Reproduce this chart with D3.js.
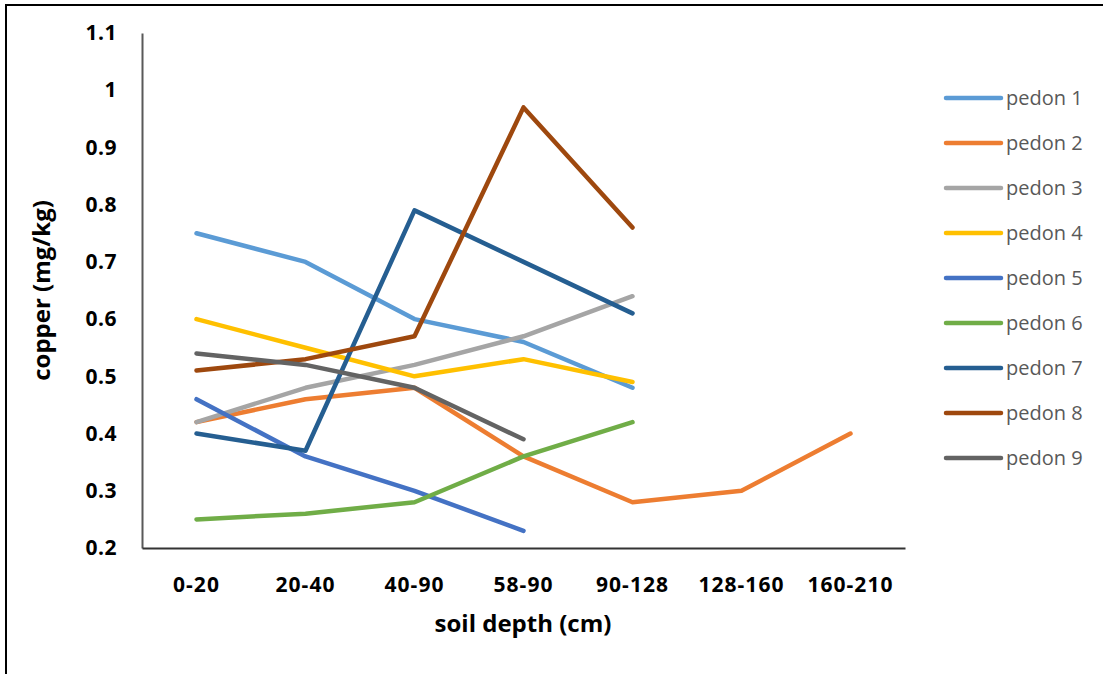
<!DOCTYPE html>
<html>
<head>
<meta charset="utf-8">
<script src="https://cdn.jsdelivr.net/npm/d3@7"></script>
<style>
  body { margin: 0; background: #fff; }
  svg text { font-family: "Open Sans", Lato, "Liberation Sans", sans-serif; }
</style>
</head>
<body>
<div id="chart"></div>
<script>
"use strict";
// soil depth classes (x axis)
var depths = ["0-20", "20-40", "40-90", "58-90", "90-128", "128-160", "160-210"];

var seriesNames = ["pedon 1", "pedon 2", "pedon 3", "pedon 4", "pedon 5",
  "pedon 6", "pedon 7", "pedon 8", "pedon 9"];

// copper values, one array per pedon
var pedon1 = [0.75, 0.70, 0.60, 0.56, 0.48];
var pedon2 = [0.42, 0.46, 0.48, 0.36, 0.28, 0.30, 0.40];
var pedon3 = [0.42, 0.48, 0.52, 0.57, 0.64];
var pedon4 = [0.60, 0.55, 0.50, 0.53, 0.49];
var pedon5 = [0.46, 0.36, 0.30, 0.23];
var pedon6 = [0.25, 0.26, 0.28, 0.36, 0.42];
var pedon7 = [0.40, 0.37, 0.79, 0.70, 0.61];
var pedon8 = [0.51, 0.53, 0.57, 0.97, 0.76];
var pedon9 = [0.54, 0.52, 0.48, 0.39];

var yTicks = [0.2, 0.3, 0.4, 0.5, 0.6, 0.7, 0.8, 0.9, 1, 1.1];

var colors = ["#5B9BD5", "#ED7D31", "#A5A5A5", "#FFC000", "#4472C4",
  "#70AD47", "#255E91", "#9E480E", "#636363"];

var allSeries = [pedon1, pedon2, pedon3, pedon4, pedon5, pedon6, pedon7, pedon8, pedon9];

var w = 1103, h = 674;
var plot = { left: 142, right: 905, top: 33, bottom: 548 };

var svg = d3.select("#chart").append("svg")
  .attr("width", w)
  .attr("height", h);

//outer frame, only left and top edges show in the picture
svg.append("rect")
  .attr("x", 6).attr("y", 5)
  .attr("width", w + 10).attr("height", h + 10)
  .attr("fill", "none")
  .attr("stroke", "#000")
  .attr("stroke-width", 2);

var x = d3.scaleBand().domain(depths).range([plot.left, plot.right]);
var y = d3.scaleLinear().domain([0.2, 1.1]).range([plot.bottom, plot.top]);

//y axis
var yAxis = svg.append("g")
  .attr("transform", "translate(" + plot.left + ",0)")
  .call(d3.axisLeft(y).tickValues(yTicks).tickSize(0).tickPadding(25)
    .tickFormat(function(d) { return String(+d.toFixed(1)); }));
yAxis.select(".domain").attr("stroke", "#595959").attr("stroke-width", 2);
yAxis.selectAll("text")
  .attr("font-size", 21).attr("font-weight", "bold").attr("fill", "#000")
  .attr("letter-spacing", 0.5);

//x axis
var xAxis = svg.append("g")
  .attr("transform", "translate(0," + plot.bottom + ")")
  .call(d3.axisBottom(x).tickSize(0).tickPadding(29));
xAxis.select(".domain").attr("stroke", "#333").attr("stroke-width", 2);
xAxis.selectAll("text")
  .attr("font-size", 21).attr("font-weight", "bold").attr("fill", "#000")
  .attr("letter-spacing", 1);

//axis titles
svg.append("text")
  .attr("x", 523)
  .attr("y", 632)
  .attr("text-anchor", "middle")
  .attr("font-size", 24).attr("font-weight", "bold")
  .text("soil depth (cm)");

svg.append("text")
  .attr("transform", "translate(50," + (plot.top + plot.bottom) / 2 + ") rotate(-90)")
  .attr("text-anchor", "middle")
  .attr("font-size", 24).attr("font-weight", "bold")
  .text("copper (mg/kg)");

//lines
var line = d3.line()
  .x(function(d, i) { return x(depths[i]) + x.bandwidth() / 2; })
  .y(function(d) { return y(d); });

svg.append("g").selectAll("path")
  .data(allSeries)
  .join("path")
  .attr("d", line)
  .attr("fill", "none")
  .attr("stroke", function(d, i) { return colors[i]; })
  .attr("stroke-width", 4.5)
  .attr("stroke-linecap", "round")
  .attr("stroke-linejoin", "round");

//legend
var legend = svg.append("g").selectAll("g")
  .data(seriesNames)
  .join("g")
  .attr("transform", function(d, i) { return "translate(946," + (98 + i * 45) + ")"; });

legend.append("line")
  .attr("x1", 0).attr("x2", 55)
  .attr("stroke", function(d, i) { return colors[i]; })
  .attr("stroke-width", 4.5)
  .attr("stroke-linecap", "round");

legend.append("text")
  .attr("x", 60).attr("dy", "0.35em")
  .attr("font-size", 20)
  .attr("fill", "#595959")
  .text(function(d) { return d; });
</script>
</body>
</html>
